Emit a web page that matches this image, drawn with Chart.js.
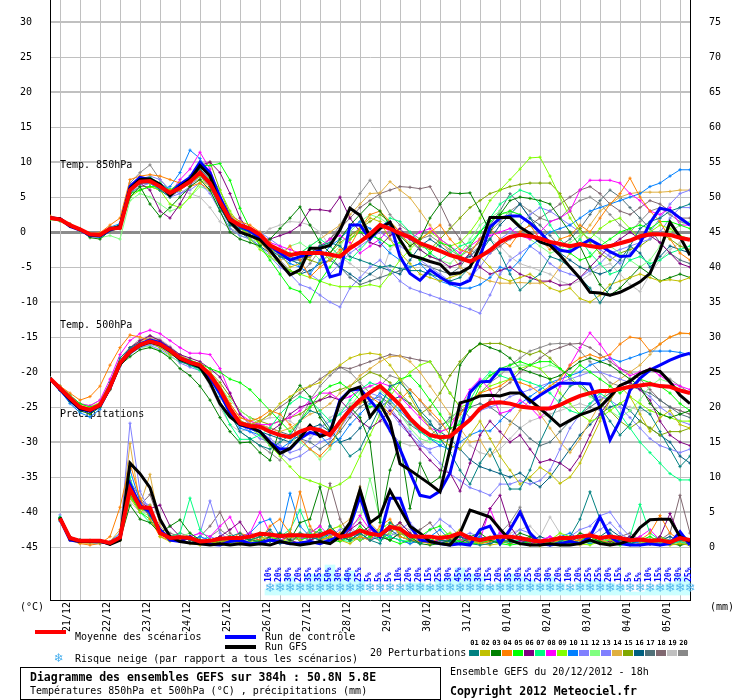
<!DOCTYPE html>
<html>
<head>
<meta charset="utf-8">
<script src="https://cdn.jsdelivr.net/npm/chart.js@4.4.0/dist/chart.umd.min.js"></script>
<style>
  body { margin: 0; background: #fff; }
  #wrap { position: relative; width: 740px; height: 700px; background: #fff; overflow: hidden; }
  #gefs { position: absolute; left: 0; top: 0; }
  .t { position: absolute; font: 10px 'DejaVu Sans Mono', monospace; line-height: 12px; white-space: pre; color: #000; }
  .b { font-weight: bold; font-size: 11.5px; }
  .bar { position: absolute; height: 4px; width: 31px; }
  .sw { position: absolute; width: 10px; height: 6px; top: 650px; }
  .num { position: absolute; width: 11px; top: 639px; text-align: center; font: bold 7px 'DejaVu Sans Mono', monospace; line-height: 8px; }
  #box { position: absolute; left: 20px; top: 667px; width: 419px; height: 31px; border: 1px solid #000; }
</style>
</head>
<body>
<div id="wrap">
  <canvas id="gefs" width="740" height="640"></canvas>
  <div class="t" style="left:20px;top:601px">(°C)</div>
  <div class="t" style="left:710px;top:601px">(mm)</div>
  <div class="bar" style="left:35px;top:630px;background:#ff0000"></div>
  <div class="t" style="left:75px;top:631px">Moyenne des scénarios</div>
  <div class="bar" style="left:225px;top:635px;background:#0000ff"></div>
  <div class="t" style="left:265px;top:631px">Run de contrôle</div>
  <div class="bar" style="left:225px;top:645px;background:#000"></div>
  <div class="t" style="left:265px;top:641px">Run GFS</div>
  <div class="t" style="left:54px;top:652px;font-size:12px;color:#4ab0ee;font-family:'DejaVu Sans'">❄</div>
  <div class="t" style="left:75px;top:653px">Risque neige (par rapport a tous les scénarios)</div>
  <div class="t" style="left:370px;top:647px">20 Perturbations</div>
  <div id="swatches"></div>
  <div id="box"></div>
  <div class="t b" style="left:30px;top:671px">Diagramme des ensembles GEFS sur 384h : 50.8N 5.8E</div>
  <div class="t" style="left:30px;top:685px">Températures 850hPa et 500hPa (°C) , précipitations (mm)</div>
  <div class="t" style="left:450px;top:666px">Ensemble GEFS du 20/12/2012 - 18h</div>
  <div class="t b" style="left:450px;top:685px">Copyright 2012 Meteociel.fr</div>
</div>
<script>
// run 20/12/2012 18h, one value every 6h (65 steps, 384h)
const dayLabels = ['21/12', '22/12', '23/12', '24/12', '25/12', '26/12', '27/12', '28/12',
  '29/12', '30/12', '31/12', '01/01', '02/01', '03/01', '04/01', '05/01'];
const tempTicks = [-45, -40, -35, -30, -25, -20, -15, -10, -5, 0, 5, 10, 15, 20, 25, 30];
const rainTicks = [0, 5, 10, 15, 20, 25, 30, 35, 40, 45, 50, 55, 60, 65, 70, 75];

// snow risk (%), from step 22 (26/12 06h) to the end
const snowPct = [10, 20, 30, 20, 35, 35, 50, 30, 40, 25, 5, 5, 5, 10, 20, 20, 15, 25, 30, 45, 35, 30, 15,
  20, 35, 30, 25, 20, 30, 20, 10, 20, 25, 25, 20, 15, 5, 5, 10, 15, 20, 30, 25];

// ---- 850 hPa temperature
const t850Mean = [2.0, 1.8, 1.0, 0.4, -0.3, -0.4, 0.5, 0.6,
  6.0, 7.2, 7.3, 6.5, 5.6, 6.3, 7.2, 8.5,
  7.0, 4.3, 1.8, 1.0, 0.5, -0.4, -1.9, -2.6,
  -3.3, -3.0, -3.0, -3.0, -3.2, -3.5, -2.3, -1.4,
  -0.3, 1.0, 0.5, -0.2, -0.7, -1.6, -2.1, -2.7,
  -3.3, -3.7, -4.2, -3.5, -2.6, -1.4, -0.7, -0.4,
  -0.6, -0.9, -1.4, -1.7, -2.0, -1.7, -2.0, -2.2,
  -2.0, -1.6, -1.2, -0.6, -0.3, -0.3, -0.4, -0.8,
  -1.1];
const t850Control = [2.0, 1.9, 0.8, 0.3, -0.5, -0.6, 0.3, 0.8,
  6.5, 7.8, 7.5, 6.8, 5.5, 6.8, 7.8, 10.0,
  8.5, 5.0, 2.0, 0.8, 0.2, -0.8, -2.0, -3.0,
  -4.0, -3.5, -3.2, -2.6, -6.4, -6.0, 1.0, 1.0,
  -1.0, 0.7, 1.4, -3.5, -5.9, -6.9, -5.4, -6.4,
  -7.3, -7.5, -6.9, -3.5, 0.7, 2.0, 2.3, 2.3,
  1.3, 0.0, -1.6, -2.6, -2.8, -1.9, -1.1, -1.9,
  -2.8, -3.5, -3.4, -1.6, 1.3, 3.4, 3.1, 2.0,
  1.0];
const t850Gfs = [2.0, 1.9, 0.9, 0.4, -0.4, -0.5, 0.4, 0.8,
  6.2, 7.5, 7.6, 6.8, 5.2, 6.5, 7.5, 9.5,
  8.0, 4.0, 1.5, 0.0, -0.5, -1.1, -2.6, -4.4,
  -6.1, -5.4, -2.3, -2.3, -1.9, 0.3, 3.4, 2.4,
  -0.7, 0.5, 1.4, -1.1, -3.3, -3.7, -4.2, -4.6,
  -6.0, -5.8, -5.0, -2.0, 2.1, 2.1, 2.1, 0.7,
  -0.2, -1.4, -1.9, -3.3, -5.0, -6.6, -8.6, -8.7,
  -9.0, -8.6, -7.9, -7.1, -5.9, -2.6, 1.4, -0.7,
  -3.3];
const t850P01 = [2.1, 1.7, 1.1, 0.3, -0.4, -0.3, 0.4, 1.0,
  5.5, 7.0, 7.5, 6.0, 5.0, 6.5, 8.0, 9.0,
  6.5, 3.5, 1.0, 0.5, 0.0, -1.0, -2.5, -3.5,
  -4.0, -4.5, -3.0, -2.0, -1.5, -2.0, -3.5, -4.0,
  -4.5, -5.0, -4.8, -5.2, -5.5, -5.5, -6.0, -6.5,
  -7.0, -6.5, -5.0, -3.0, -1.0, -3.0, -6.0, -8.3,
  -7.0, -6.0, -3.5, -4.0, -5.0, -6.5, -8.0, -10.1,
  -8.0, -5.5, -2.0, 0.5, 1.5, 2.0, 3.0, 3.5,
  4.0];
const t850P02 = [2.0, 1.8, 0.9, 0.5, -0.2, -0.5, 0.3, 0.8,
  6.5, 7.5, 7.0, 6.5, 6.0, 6.0, 7.0, 8.0,
  7.5, 5.0, 2.5, 1.0, -0.5, -1.5, -2.5, -3.0,
  -5.0, -4.5, -3.5, -2.5, -4.0, -3.0, -1.0, 0.5,
  2.0, 1.5, -1.0, -3.0, -4.5, -6.0, -6.5, -7.0,
  -6.5, -6.0, -5.0, -3.5, -5.0, -6.5, -7.0, -6.5,
  -6.0, -7.0, -8.0, -8.5, -8.0, -9.5, -10.0, -9.0,
  -7.5, -7.0, -6.5, -6.0, -6.5, -7.0, -6.8, -7.0,
  -6.5];
const t850P03 = [2.0, 1.8, 1.0, 0.3, -0.8, -1.0, 0.2, 0.5,
  5.0, 6.5, 4.0, 2.2, 3.5, 5.0, 6.5, 7.5,
  6.0, 3.0, 0.0, -1.0, -1.5, -2.0, -1.0, 0.5,
  2.0, 3.6, 1.0, -1.5, -3.0, -1.0, 1.0, 2.5,
  4.0, 3.0, 1.0, -0.5, -2.0, -1.0, 2.0, 4.0,
  5.6, 5.5, 5.6, 3.0, 0.0, 2.5, 4.5, 5.0,
  4.8, 4.5, 4.0, 2.0, 0.0, -2.0, -5.0, -7.5,
  -9.0, -8.0, -6.5, -5.0, -6.0, -7.0, -6.5, -6.0,
  -6.5];
const t850P04 = [2.3, 1.9, 1.2, 0.5, -0.2, -0.1, 1.0, 2.0,
  7.5, 8.0, 8.2, 8.0, 7.5, 7.0, 6.5, 7.0,
  6.0, 4.5, 2.5, 1.5, 1.0, 0.0, -1.5, -3.5,
  -2.0, -4.0, -6.4, -5.0, -4.0, -2.5, -2.0, 0.5,
  2.5, 3.0, 1.5, 0.0, -2.0, -1.0, 0.0, 1.0,
  -1.0, -2.5, -3.0, -1.0, 0.5, -1.0, -2.0, 0.0,
  1.0, -1.0, -2.5, -1.0, -0.5, 1.0, 0.0, 2.0,
  4.0, 5.5, 7.7, 5.0, 3.0, 1.5, -1.0, -3.0,
  -4.0];
const t850P05 = [1.8, 1.6, 0.8, 0.2, -0.5, -0.6, 0.3, 0.7,
  5.5, 6.0, 6.5, 6.5, 6.0, 7.0, 7.5, 9.5,
  9.5, 9.8, 7.4, 3.4, 0.5, -2.0, -4.0, -6.0,
  -8.0, -8.5, -10.0, -7.0, -5.0, -3.0, -1.0, 0.0,
  -0.5, -1.0, -2.0, -1.5, -3.0, -4.0, -3.0, -1.5,
  -2.0, -3.5, -2.0, 0.0, 1.5, 2.5, 3.0, 2.5,
  1.0, 0.0, -1.5, -2.5, -3.0, -4.0, -3.5, -2.0,
  -1.0, 0.0, 0.5, 1.0, 0.5, 1.5, 1.5, 1.0,
  0.5];
const t850P06 = [2.0, 1.8, 1.0, 0.4, -0.3, -0.4, 0.5, 0.8,
  6.5, 7.0, 6.0, 3.0, 2.0, 4.0, 6.5, 9.5,
  10.0, 8.5, 5.5, 2.0, 0.0, -1.0, -1.0, -0.5,
  0.0, 1.0, 3.2, 3.2, 3.0, 5.0, 2.0, 0.0,
  -1.5, -2.0, -0.5, 0.5, -1.0, -2.5, -3.5, -4.0,
  -5.0, -4.5, -3.0, -5.0, -6.0, -5.5, -5.0, -6.0,
  -6.5, -7.0, -7.0, -7.6, -7.5, -6.5, -5.0, -3.5,
  -2.0, -1.0, 0.0, -1.0, -0.5, -1.5, -3.0, -4.5,
  -5.0];
const t850P07 = [2.0, 1.7, 1.0, 0.5, -0.2, -0.3, 0.6, 1.0,
  6.0, 7.5, 7.8, 7.0, 6.0, 6.5, 7.0, 8.0,
  7.0, 4.0, 1.0, 0.5, 0.0, -1.0, -2.0, -3.0,
  -3.5, -3.0, -2.0, -1.0, -2.0, -3.5, -4.0, -2.5,
  -1.0, 0.5, 2.0, 1.5, 0.0, -1.5, -3.0, -4.0,
  -3.0, -2.0, -1.5, 0.0, 2.0, 4.0, 5.0, 6.0,
  5.5, 4.0, 1.0, -1.0, -2.5, -1.0, -3.0, -4.5,
  -6.0, -5.5, -4.0, -3.5, -4.5, -4.0, -3.0, -2.5,
  -2.0];
const t850P08 = [2.2, 1.9, 1.0, 0.4, -0.4, -0.5, 0.5, 0.8,
  6.0, 7.0, 7.5, 6.5, 5.5, 7.5, 9.0, 11.4,
  9.0, 5.0, 2.0, 1.0, 0.0, -0.5, -1.5, -2.0,
  -2.5, -3.0, -3.5, -2.0, -1.0, -0.5, -1.5, -3.0,
  -2.0, -1.0, 0.5, -0.5, -1.0, 0.0, 0.5, -1.0,
  -2.0, -3.0, -2.0, -1.0, -0.5, 0.0, 0.5, -0.5,
  -1.0, 0.0, 1.5, 2.0, 3.0, 6.0, 7.4, 7.4,
  7.4, 7.0, 5.5, 4.5, 3.0, 2.5, 3.5, 1.0,
  1.0];
const t850P09 = [1.9, 1.7, 1.0, 0.3, -0.4, -0.6, 0.2, 0.5,
  5.0, 6.0, 6.5, 6.0, 4.0, 3.5, 5.0, 7.0,
  8.0, 6.0, 3.0, 1.0, -1.0, -2.5, -3.5, -4.5,
  -5.5, -6.0, -6.5, -7.0, -7.5, -7.8, -7.8, -7.8,
  -7.5, -7.8, -6.0, -4.0, -2.5, -1.0, 0.0, -1.0,
  -2.0, -1.5, 0.0, 2.0, 4.5, 6.0, 7.5, 9.0,
  10.6, 10.7, 8.0, 5.0, 2.0, 0.0, -1.0, 0.5,
  1.5, 2.0, 0.5, -1.0, 0.0, 1.0, 0.5, -0.5,
  -1.0];
const t850P10 = [2.1, 1.8, 1.1, 0.5, -0.2, -0.3, 0.7, 1.2,
  6.5, 7.0, 7.0, 6.0, 6.5, 8.5, 11.7, 10.5,
  8.0, 4.5, 2.0, 1.0, 0.5, -0.5, -2.0, -3.5,
  -4.5, -5.0, -6.0, -4.0, -2.0, -1.0, 0.5, 1.5,
  0.5, -1.5, -3.0, -4.0, -5.0, -4.5, -6.0, -7.0,
  -7.5, -8.0, -8.0, -7.5, -6.5, -5.0, -5.5, -4.0,
  -2.0, -1.0, 0.0, 0.5, 1.0, 2.0, 3.0, 3.5,
  4.0, 4.5, 5.0, 5.5, 6.5, 7.0, 8.0, 8.9,
  8.9];
const t850P11 = [2.0, 1.7, 0.9, 0.3, -0.3, -0.4, 0.4, 0.6,
  5.5, 6.5, 7.0, 6.0, 5.0, 5.5, 6.0, 7.0,
  5.5, 3.0, 0.5, -0.5, -1.0, -2.0, -3.5, -5.0,
  -6.0, -7.5, -8.0, -9.0, -10.0, -10.7, -8.0, -6.5,
  -5.0, -4.0, -5.5, -7.0, -8.0, -8.5, -9.0, -9.5,
  -10.0, -10.5, -11.0, -11.6, -9.0, -6.0, -4.0, -3.0,
  -2.0, -3.0, -4.5, -5.5, -6.0, -6.5, -5.5, -4.5,
  -3.0, -2.5, -2.0, -1.5, -1.0, 0.0, 2.0, 3.5,
  3.5];
const t850P12 = [1.9, 1.6, 0.8, 0.2, -0.6, -0.8, -0.5, -1.0,
  4.5, 5.5, 5.0, 4.0, 3.0, 3.5, 5.0, 6.5,
  6.0, 3.0, 0.5, -0.5, -1.0, -1.5, -2.5, -3.0,
  -2.0, -1.5, -2.5, -4.0, -3.5, -2.0, 0.0, 1.5,
  2.5, 2.0, 1.0, -0.5, -1.5, -2.5, -3.5, -4.0,
  -4.5, -3.0, -1.0, 1.0, 2.0, 3.0, 2.5, 1.0,
  -1.0, -2.0, -3.0, -2.5, -1.5, -0.5, 0.0, -1.0,
  -2.0, -3.0, -4.0, -5.0, -4.0, -2.0, 0.0, 1.0,
  1.5];
const t850P13 = [2.1, 1.9, 1.0, 0.4, -0.2, -0.3, 0.6, 0.8,
  6.0, 7.5, 8.0, 7.5, 6.0, 5.5, 6.5, 8.0,
  7.5, 5.0, 2.5, 1.5, 0.5, 0.0, -1.0, -2.0,
  -3.5, -5.0, -6.0, -7.0, -6.0, -4.5, -3.0, -2.0,
  -1.0, 0.0, -1.0, -2.0, -3.0, -4.0, -5.0, -6.0,
  -7.0, -7.5, -6.5, -5.0, -3.0, -1.0, 0.0, 1.0,
  2.5, 3.5, 3.0, 2.0, 1.0, 0.0, -1.0, -2.5,
  -3.5, -4.5, -3.0, -1.5, 0.0, 2.0, 4.0, 5.5,
  6.0];
const t850P14 = [2.0, 1.8, 1.0, 0.5, -0.2, -0.3, 0.6, 1.0,
  6.5, 8.0, 7.5, 7.0, 6.0, 6.0, 7.0, 7.5,
  6.5, 4.0, 1.5, 0.5, -0.5, -1.5, -3.0, -4.0,
  -3.5, -3.0, -2.0, -1.0, 0.0, 1.0, 2.5, 4.0,
  5.5, 5.6, 7.2, 6.0, 4.9, 3.0, 1.0, -1.0,
  -3.0, -5.0, -6.0, -6.5, -7.0, -7.3, -7.3, -7.2,
  -7.3, -7.3, -7.0, -5.0, -3.0, -1.0, 1.0, 3.0,
  4.0, 5.0, 5.5, 5.7, 5.7, 5.7, 5.8, 6.0,
  6.0];
const t850P15 = [1.9, 1.7, 0.9, 0.4, -0.4, -0.5, 0.3, 0.7,
  5.5, 6.5, 6.5, 6.0, 5.5, 6.0, 7.5, 9.0,
  10.0, 6.0, 2.5, 0.5, -0.5, -1.5, -2.0, -2.5,
  -3.0, -3.5, -4.0, -4.5, -3.0, -1.5, -0.5, 0.5,
  1.5, 2.5, 1.5, 0.0, -1.0, -2.0, -2.5, -1.0,
  0.5, 2.0, 3.5, 4.5, 5.5, 6.0, 6.5, 6.8,
  7.0, 7.0, 7.0, 5.5, 3.0, 0.5, -1.5, -3.0,
  -4.0, -3.0, -2.5, -2.0, -1.0, 0.0, -1.0, -2.0,
  -2.5];
const t850P16 = [2.0, 1.8, 1.0, 0.4, -0.3, -0.4, 0.5, 0.6,
  6.0, 7.0, 7.2, 6.5, 5.5, 6.0, 7.5, 9.0,
  7.5, 4.5, 1.5, 0.0, -1.0, -2.0, -3.0, -4.5,
  -5.5, -6.0, -5.5, -4.5, -4.0, -5.0, -6.0, -7.0,
  -6.0, -5.0, -5.5, -6.0, -4.0, -2.0, -1.0, -2.0,
  -3.0, -4.0, -3.5, -2.0, -1.0, 1.0, 2.5, 4.0,
  2.0, 0.0, -1.5, -3.0, -4.0, -5.0, -5.5, -6.0,
  -5.5, -4.0, -2.0, -3.0, -5.0, -3.5, -2.0, -2.5,
  -3.0];
const t850P17 = [2.1, 1.8, 1.1, 0.5, -0.3, -0.4, 0.4, 0.7,
  6.0, 7.0, 7.5, 7.0, 6.0, 6.5, 7.0, 8.5,
  7.0, 4.0, 1.5, 0.5, -0.5, -1.0, -2.0, -3.0,
  -4.0, -4.0, -3.5, -2.5, -3.5, -5.0, -6.5, -7.5,
  -7.0, -6.5, -6.0, -5.5, -5.0, -4.5, -5.0, -5.5,
  -6.0, -5.0, -3.0, -1.0, 1.0, 3.0, 5.5, 4.0,
  2.0, 1.0, -0.5, -2.0, -1.0, 0.5, 2.5, 4.5,
  6.0, 5.0, 3.5, 2.0, 0.5, -1.5, -3.0, -4.0,
  -4.5];
const t850P18 = [2.0, 1.8, 1.0, 0.3, -0.4, -0.4, 0.5, 0.7,
  6.0, 7.0, 7.0, 6.0, 5.0, 6.0, 7.5, 8.0,
  6.5, 4.0, 1.5, 0.5, 0.0, -1.0, -2.0, -3.0,
  -3.5, -4.0, -3.0, -2.0, -1.0, 0.5, 2.0, 3.5,
  4.5, 5.5, 6.0, 6.5, 6.4, 6.2, 6.5, 4.0,
  1.0, -1.0, -2.5, -3.5, -3.0, -2.0, -1.0, 0.0,
  1.0, 2.0, 3.0, 4.0, 5.0, 6.0, 6.5, 5.5,
  4.0, 3.0, 2.5, 3.5, 4.5, 4.0, 3.0, 2.0,
  2.0];
const t850P19 = [2.0, 1.8, 1.0, 0.4, -0.3, -0.4, 0.5, 0.7,
  5.5, 6.5, 7.0, 6.0, 5.5, 6.0, 5.5, 5.0,
  3.5, 1.5, 0.5, 0.0, -0.5, -0.5, 0.5, 1.0,
  1.5, 1.4, 1.0, 0.0, -2.0, -3.5, -4.5, -5.5,
  -6.0, -6.7, -2.5, -1.0, -0.5, -1.5, -3.0, -4.5,
  -5.0, -4.5, -3.0, -2.0, -1.0, -2.0, -3.5, -4.5,
  -5.0, -5.5, -6.0, -7.0, -7.5, -7.0, -6.0, -5.0,
  -4.5, -6.0, -7.5, -8.5, -6.0, -4.0, -2.5, -1.5,
  -1.0];
const t850P20 = [2.0, 1.8, 1.0, 0.4, -0.3, -0.4, 0.3, 0.6,
  7.0, 8.5, 9.6, 7.5, 6.0, 6.5, 7.0, 8.0,
  6.5, 3.5, 1.0, 0.0, -0.5, -1.0, -2.5, -4.0,
  -5.5, -6.0, -4.5, -2.5, -1.0, 1.0, 3.5, 5.5,
  7.4, 5.0, 2.5, 1.0, 0.0, -1.0, -0.5, -1.5,
  -2.5, -3.5, -2.5, -1.5, 0.0, 1.5, 3.0, 4.0,
  3.0, 2.0, 1.5, 2.0, 3.5, 4.5, 5.0, 4.0,
  2.5, 1.0, 0.0, 1.5, 3.0, 3.5, 2.5, 1.5,
  1.0];

// ---- 500 hPa temperature
const t500Mean = [-20.9, -22.3, -23.7, -25.0, -25.4, -24.7, -22.1, -18.7,
  -17.1, -16.1, -15.6, -16.0, -16.9, -18.0, -18.6, -19.0,
  -20.4, -22.5, -25.2, -27.3, -27.7, -27.8, -28.5, -29.0,
  -29.3, -28.5, -28.0, -28.3, -29.0, -27.1, -25.4, -24.0,
  -22.9, -22.0, -23.3, -24.7, -26.6, -28.0, -29.0, -29.3,
  -29.2, -28.0, -26.8, -25.2, -24.4, -24.3, -24.5, -24.9,
  -25.1, -25.2, -25.2, -24.7, -24.0, -23.4, -23.0, -22.7,
  -22.7, -22.4, -22.1, -21.9, -21.7, -22.0, -22.1, -22.6,
  -23.0];
const t500Control = [-20.9, -22.5, -24.0, -25.3, -25.6, -24.8, -22.3, -18.8,
  -17.0, -16.0, -15.4, -15.8, -16.8, -18.0, -18.5, -19.2,
  -20.8, -23.0, -25.8, -27.5, -28.0, -28.5, -30.0, -31.0,
  -31.0, -29.5, -28.6, -29.0, -28.6, -24.0, -22.6, -22.4,
  -24.0, -25.7, -28.3, -31.0, -34.4, -37.6, -37.9, -37.0,
  -34.4, -28.7, -22.9, -21.4, -21.3, -19.6, -19.6, -22.6,
  -24.3, -23.3, -22.4, -21.6, -21.6, -21.6, -21.7, -25.0,
  -29.7, -26.9, -22.6, -20.9, -19.7, -19.0, -18.3, -17.7,
  -17.3];
const t500Gfs = [-20.9, -22.4, -23.9, -25.2, -25.5, -24.8, -22.2, -18.9,
  -17.2, -16.2, -15.7, -16.1, -17.0, -18.2, -18.7, -19.3,
  -21.5, -24.5, -26.4, -27.5, -27.8, -28.5, -30.1, -31.6,
  -30.9, -29.4, -27.6, -29.2, -28.7, -24.2, -22.6, -22.1,
  -26.4, -24.5, -27.1, -33.1, -34.0, -35.0, -36.0, -37.1,
  -31.0, -24.4, -24.0, -23.4, -23.3, -23.4, -23.0, -23.0,
  -24.0, -25.2, -26.4, -27.7, -26.9, -26.1, -25.6, -25.0,
  -23.5, -21.9, -21.3, -20.2, -19.6, -19.9, -21.4, -23.3,
  -24.5];
const t500P01 = [-20.8, -22.5, -24.0, -25.2, -25.5, -24.5, -21.5, -18.0,
  -16.5, -15.8, -15.5, -16.2, -17.0, -18.5, -19.0, -19.5,
  -21.0, -23.0, -26.0, -28.5, -29.5, -30.5, -31.0, -30.0,
  -29.0, -27.0, -25.5, -26.0, -28.0, -30.0, -32.0, -31.0,
  -28.0, -25.0, -22.0, -21.5, -23.0, -25.5, -27.0, -29.5,
  -31.5, -34.0, -36.0, -33.0, -31.0, -34.0, -36.7, -36.7,
  -34.0, -30.0, -27.0, -24.0, -22.0, -21.5, -23.0, -25.0,
  -27.0, -29.0, -27.5, -25.0, -26.0, -28.5, -31.0, -33.5,
  -32.0];
const t500P02 = [-21.0, -22.3, -23.5, -24.8, -25.2, -24.8, -22.5, -19.0,
  -17.0, -16.0, -15.8, -16.5, -17.5, -18.0, -18.8, -19.5,
  -21.0, -23.0, -25.0, -27.0, -27.5, -27.0, -26.0, -24.5,
  -23.5, -22.5, -22.0, -21.5, -20.0, -19.0, -18.0, -17.5,
  -17.3, -17.5, -19.0, -21.0, -23.5, -26.0, -28.0, -29.5,
  -30.5, -31.0, -29.0, -27.0, -29.5, -32.0, -34.0, -36.0,
  -35.0, -33.6, -34.5, -35.9, -35.0, -33.0, -30.0, -27.0,
  -24.0, -22.0, -23.5, -26.0, -28.5, -26.5, -25.5, -27.5,
  -28.0];
const t500P03 = [-20.9, -22.6, -24.2, -25.5, -26.0, -25.0, -22.5, -19.0,
  -17.8, -16.8, -16.5, -17.0, -18.0, -19.5, -20.5, -22.0,
  -24.0, -26.5, -28.5, -30.1, -30.0, -31.5, -32.6, -28.0,
  -24.0, -21.9, -23.5, -26.5, -28.5, -27.0, -25.0, -26.5,
  -30.0, -41.5, -34.0, -30.0, -39.5, -33.0, -36.0, -35.0,
  -28.0, -19.0, -17.0, -15.9, -16.5, -17.0, -18.0, -19.5,
  -20.0, -20.5, -21.0, -20.5, -19.5, -18.5, -18.0, -18.5,
  -19.0, -20.0, -21.0, -22.0, -24.5, -26.0, -26.5, -26.0,
  -25.5];
const t500P04 = [-20.8, -22.0, -23.0, -24.0, -23.5, -22.0, -19.0, -16.5,
  -14.7, -15.0, -15.5, -16.0, -17.0, -18.0, -18.5, -19.0,
  -20.0, -22.0, -24.5, -26.5, -27.0, -26.5, -25.5, -26.0,
  -27.5, -29.5, -31.0, -32.0, -30.5, -28.0, -25.5, -24.5,
  -23.5, -24.5, -26.0, -24.0, -22.5, -24.0, -25.5, -27.0,
  -29.0, -26.0, -24.0, -23.0, -22.5, -22.0, -21.0, -21.5,
  -22.0, -23.0, -22.0, -21.0, -19.0, -18.0, -17.5, -18.0,
  -17.5, -16.0, -15.0, -15.2, -17.0, -16.0, -15.0, -14.4,
  -14.5];
const t500P05 = [-20.9, -22.0, -23.3, -24.5, -25.0, -24.5, -22.0, -18.5,
  -17.0, -16.0, -15.5, -16.0, -16.8, -17.8, -18.3, -18.8,
  -19.5, -20.0, -21.0, -21.5, -22.5, -24.0, -25.5, -27.0,
  -28.5, -27.0, -25.0, -23.0, -22.0, -21.5, -22.5, -24.0,
  -25.0, -24.5, -22.5, -21.0, -20.5, -22.0, -24.0, -26.0,
  -28.0, -27.5, -25.0, -22.0, -20.5, -19.5, -19.0, -18.5,
  -19.0, -18.5, -18.5, -19.5, -20.5, -19.0, -20.0, -21.0,
  -22.0, -23.0, -22.0, -21.0, -21.5, -22.0, -23.0, -24.5,
  -25.5];
const t500P06 = [-20.9, -22.3, -23.5, -24.8, -25.2, -24.5, -22.0, -18.5,
  -16.5, -15.5, -14.8, -15.5, -16.5, -17.5, -18.0, -18.5,
  -19.5, -20.7, -23.0, -26.0, -27.5, -28.0, -28.5, -27.5,
  -26.0, -25.0, -24.5, -24.0, -23.5, -24.0, -25.5, -27.0,
  -28.0, -27.0, -25.5, -27.0, -29.0, -31.0, -32.6, -34.0,
  -34.4, -37.0, -33.0, -29.0, -27.0, -28.5, -30.0, -29.0,
  -31.0, -32.9, -32.5, -33.0, -34.0, -32.0, -29.0, -26.0,
  -24.0, -22.0, -21.5, -22.5, -24.0, -27.0, -29.0, -30.0,
  -30.5];
const t500P07 = [-20.9, -22.4, -23.8, -25.2, -25.6, -24.8, -22.3, -19.0,
  -17.3, -16.3, -15.8, -16.3, -17.2, -18.3, -19.0, -19.8,
  -21.5, -24.5, -27.5, -29.6, -29.6, -29.0, -28.0, -26.0,
  -24.5, -23.5, -24.0, -25.5, -27.0, -26.0, -24.0, -22.5,
  -21.5, -22.0, -23.0, -25.0, -27.0, -28.5, -29.5, -30.0,
  -29.0, -27.0, -24.0, -21.5, -20.0, -20.5, -21.0, -21.0,
  -21.5, -22.0, -23.0, -24.5, -25.5, -26.0, -24.5, -23.0,
  -24.0, -26.0, -28.0, -30.0, -31.5, -33.0, -34.5, -35.4,
  -35.4];
const t500P08 = [-20.9, -22.0, -23.3, -24.5, -24.8, -24.0, -21.0, -17.5,
  -15.5, -14.5, -14.0, -14.5, -15.5, -16.5, -17.3, -17.3,
  -17.5, -19.5, -23.0, -26.0, -27.0, -27.5, -27.5, -27.0,
  -26.5, -25.5, -24.0, -23.0, -23.0, -24.0, -23.5, -22.5,
  -22.0, -21.5, -22.0, -23.5, -25.0, -26.5, -28.0, -28.5,
  -28.0, -25.0, -22.5, -21.0, -22.5, -25.9, -25.5, -24.0,
  -25.0, -26.5, -25.0, -22.0, -19.0, -16.5, -14.4, -16.0,
  -18.0, -19.5, -20.5, -20.0, -19.5, -20.5, -21.5, -22.0,
  -22.5];
const t500P09 = [-20.9, -22.3, -23.6, -24.9, -25.3, -24.7, -22.0, -18.8,
  -17.2, -16.3, -15.8, -16.2, -17.0, -18.2, -18.8, -19.3,
  -20.5, -22.5, -25.0, -27.0, -28.0, -29.0, -30.5, -32.0,
  -33.5, -35.0, -35.5, -36.0, -36.6, -36.0, -35.0, -32.0,
  -29.0, -26.0, -23.5, -21.5, -20.0, -19.0, -18.5, -20.7,
  -23.0, -25.0, -24.5, -23.0, -22.0, -21.5, -21.0, -19.5,
  -19.0, -19.5, -21.0, -23.0, -24.5, -26.0, -27.0, -26.5,
  -25.5, -24.5, -23.5, -24.5, -25.5, -26.0, -26.5, -27.0,
  -27.0];
const t500P10 = [-20.9, -22.6, -24.5, -25.8, -26.4, -25.3, -22.5, -19.0,
  -17.0, -16.2, -15.8, -16.3, -17.2, -18.3, -19.0, -19.5,
  -21.0, -23.5, -26.0, -28.0, -28.5, -29.0, -30.5, -31.0,
  -30.0, -28.5, -28.0, -29.0, -30.5, -29.5, -27.5, -26.0,
  -24.5, -23.0, -24.0, -25.5, -27.0, -28.5, -29.5, -30.5,
  -31.0, -30.0, -29.0, -28.4, -28.4, -27.0, -25.5, -24.5,
  -23.5, -22.5, -21.5, -21.0, -20.5, -20.0, -19.0, -18.5,
  -18.0, -18.5, -18.0, -17.5, -17.0, -17.0, -17.0, -17.2,
  -17.5];
const t500P11 = [-20.9, -22.3, -23.7, -25.0, -25.5, -24.8, -22.3, -19.0,
  -17.5, -16.5, -16.0, -16.5, -17.3, -18.3, -19.0, -19.5,
  -20.5, -22.5, -25.0, -27.5, -28.5, -29.5, -30.0, -31.5,
  -32.5, -32.0, -31.0, -30.0, -29.5, -28.0, -26.0, -24.0,
  -23.0, -23.5, -25.0, -27.0, -28.5, -30.0, -31.5, -33.0,
  -34.5, -35.5, -36.5, -37.0, -37.6, -36.0, -36.0, -35.5,
  -36.0, -35.5, -34.0, -31.0, -28.0, -26.0, -24.5, -23.5,
  -24.0, -25.0, -26.5, -28.0, -29.5, -30.5, -31.0, -31.5,
  -31.0];
const t500P12 = [-20.9, -22.2, -23.5, -24.5, -24.8, -24.0, -21.5, -18.5,
  -17.0, -16.5, -16.3, -17.0, -17.8, -18.5, -19.0, -19.5,
  -20.5, -22.0, -24.0, -25.5, -26.5, -27.5, -28.5, -29.0,
  -29.5, -30.0, -31.0, -32.5, -31.0, -28.0, -25.0, -23.0,
  -22.0, -22.5, -24.0, -26.0, -28.0, -29.5, -30.0, -29.0,
  -27.0, -25.0, -23.0, -21.5, -20.5, -20.0, -19.5, -19.0,
  -19.0, -19.5, -19.0, -19.5, -20.5, -22.0, -23.5, -24.5,
  -25.5, -26.5, -25.5, -24.0, -22.0, -21.0, -21.5, -22.5,
  -23.0];
const t500P13 = [-20.9, -22.4, -23.9, -25.2, -25.6, -24.9, -22.4, -19.2,
  -17.3, -16.5, -16.2, -16.8, -17.6, -18.7, -19.3, -19.8,
  -21.0, -23.0, -25.5, -27.5, -28.0, -28.5, -29.5, -30.5,
  -31.5, -31.0, -29.5, -28.0, -27.0, -26.0, -25.0, -24.0,
  -23.5, -24.0, -25.5, -27.5, -29.0, -30.5, -31.0, -30.5,
  -29.5, -28.0, -26.5, -25.5, -25.0, -24.5, -23.5, -23.0,
  -22.5, -22.0, -21.5, -21.5, -21.0, -20.5, -20.0, -20.0,
  -20.5, -21.0, -21.5, -22.5, -23.5, -25.0, -26.0, -27.0,
  -27.5];
const t500P14 = [-20.9, -22.2, -23.4, -24.6, -25.0, -24.3, -21.8, -18.3,
  -16.6, -15.6, -15.1, -15.6, -16.6, -17.6, -18.3, -18.8,
  -20.0, -22.0, -24.5, -26.5, -27.0, -27.5, -28.0, -28.5,
  -28.0, -27.0, -26.0, -25.5, -24.5, -23.0, -22.0, -20.5,
  -19.5, -18.5, -17.8, -17.7, -18.5, -20.0, -22.0, -24.0,
  -26.0, -28.0, -30.0, -29.7, -32.0, -30.0, -27.5, -25.5,
  -24.0, -26.0, -28.0, -30.0, -31.5, -29.5, -27.0, -24.5,
  -22.0, -21.0, -20.0, -19.0, -17.5, -16.0, -15.0, -14.5,
  -14.5];
const t500P15 = [-20.9, -22.3, -23.6, -24.9, -25.3, -24.6, -22.0, -18.6,
  -16.9, -15.9, -15.4, -15.9, -16.8, -17.9, -18.5, -18.9,
  -20.0, -21.5, -23.5, -25.5, -26.5, -27.0, -27.5, -27.0,
  -26.5, -26.0, -25.0, -24.0, -23.0, -22.5, -22.0, -21.0,
  -20.0, -20.5, -21.5, -23.0, -24.5, -26.0, -25.0, -23.0,
  -20.5, -18.5, -17.0, -16.0, -15.9, -15.9, -16.5, -17.0,
  -17.5, -17.0, -18.0, -19.5, -21.0, -22.0, -23.0, -24.5,
  -25.5, -27.0, -28.0, -27.0, -28.0, -29.0, -28.5, -28.5,
  -28.0];
const t500P16 = [-20.9, -22.4, -23.8, -25.1, -25.5, -24.8, -22.2, -18.8,
  -17.2, -16.2, -15.7, -16.1, -17.0, -18.1, -18.7, -19.1,
  -20.5, -22.5, -25.5, -27.5, -28.0, -28.5, -29.0, -29.5,
  -30.0, -29.0, -28.0, -27.5, -28.5, -30.0, -29.5, -28.0,
  -26.5, -25.0, -24.0, -23.5, -24.5, -26.0, -27.5, -28.5,
  -29.5, -31.0, -32.5, -33.5, -34.0, -34.5, -35.0, -34.4,
  -35.5, -36.4, -35.0, -33.0, -31.0, -29.0, -27.5, -26.0,
  -25.0, -24.5, -25.5, -27.0, -28.0, -29.0, -30.0, -32.0,
  -33.0];
const t500P17 = [-20.9, -22.3, -23.7, -25.0, -25.4, -24.7, -22.1, -18.7,
  -17.1, -16.1, -15.6, -16.0, -16.9, -18.0, -18.6, -19.0,
  -20.4, -22.5, -25.0, -27.0, -27.5, -27.5, -28.0, -28.5,
  -29.0, -29.5, -30.0, -31.0, -30.0, -28.5, -26.5, -25.0,
  -24.0, -23.5, -24.5, -26.0, -27.5, -28.5, -29.0, -28.0,
  -26.5, -25.5, -25.0, -24.5, -25.0, -26.0, -27.0, -28.0,
  -29.5, -30.5, -30.0, -28.5, -27.0, -26.0, -25.0, -24.0,
  -23.0, -22.5, -22.0, -22.5, -23.0, -24.0, -25.0, -26.0,
  -26.5];
const t500P18 = [-20.9, -22.2, -23.6, -24.9, -25.3, -24.6, -22.0, -18.6,
  -17.0, -16.0, -15.5, -15.9, -16.8, -17.9, -18.5, -18.9,
  -20.3, -22.3, -24.8, -27.0, -27.5, -27.0, -26.0, -25.0,
  -24.0, -23.0, -22.0, -21.0, -20.0, -19.3, -19.5, -19.0,
  -18.5, -18.0, -17.5, -17.7, -18.0, -18.3, -18.5, -20.5,
  -23.0, -25.0, -26.5, -25.5, -24.0, -22.5, -21.5, -20.0,
  -19.0, -18.0, -17.0, -16.5, -16.0, -15.9, -16.5, -17.5,
  -18.5, -19.5, -20.0, -21.0, -22.5, -24.0, -25.0, -25.5,
  -26.0];
const t500P19 = [-20.9, -22.3, -23.7, -25.0, -25.4, -24.7, -22.1, -18.7,
  -16.5, -15.2, -14.8, -15.3, -16.3, -17.5, -18.3, -19.5,
  -22.0, -25.0, -27.5, -28.5, -28.0, -27.0, -26.5, -26.5,
  -27.0, -28.0, -29.0, -28.0, -26.5, -25.5, -24.5, -24.0,
  -24.5, -26.5, -28.5, -30.0, -30.5, -30.5, -29.5, -28.5,
  -28.0, -29.0, -30.5, -31.5, -31.9, -31.0, -29.5, -28.0,
  -27.0, -26.5, -26.0, -25.5, -25.0, -24.5, -25.0, -25.5,
  -25.0, -24.5, -25.0, -25.5, -25.5, -25.0, -25.0, -25.5,
  -26.0];
const t500P20 = [-20.9, -22.4, -23.8, -25.1, -25.5, -24.8, -22.2, -18.8,
  -16.8, -15.5, -15.0, -15.4, -16.4, -17.6, -18.4, -18.9,
  -20.3, -22.8, -26.0, -28.5, -29.5, -30.5, -31.5, -32.6,
  -30.0, -27.0, -24.0, -22.0, -20.5, -19.3, -20.0, -21.5,
  -23.0, -22.0, -20.5, -21.0, -22.5, -24.0, -26.0, -27.5,
  -27.0, -26.0, -24.5, -23.0, -21.5, -20.5, -19.0, -18.0,
  -17.0, -16.5, -16.0, -15.9, -16.0, -17.0, -18.5, -20.0,
  -21.5, -22.0, -21.0, -20.0, -19.5, -20.0, -21.0, -22.0,
  -23.0];

// ---- 6h precipitation (mm), nothing at step 0
const rainMean = [null, 4.1, 1.3, 0.9, 0.9, 0.9, 0.6, 1.4,
  8.3, 5.7, 5.6, 2.0, 1.3, 1.4, 1.3, 0.8,
  0.9, 1.2, 1.3, 1.3, 1.5, 1.9, 1.8, 1.6,
  1.7, 1.7, 1.6, 1.7, 2.3, 1.5, 1.7, 2.4,
  1.9, 1.7, 2.9, 2.6, 1.6, 1.5, 1.5, 1.3,
  1.5, 2.0, 1.3, 1.0, 1.3, 1.5, 1.5, 1.3,
  1.0, 0.8, 1.0, 1.3, 1.3, 1.5, 1.7, 1.3,
  1.5, 1.3, 1.0, 1.1, 0.9, 1.0, 0.7, 1.3,
  1.0];
const rainControl = [null, 4.0, 1.0, 0.8, 0.8, 0.8, 0.5, 1.2,
  9.0, 6.0, 5.0, 2.5, 1.0, 0.8, 1.5, 0.5,
  0.4, 0.3, 0.8, 1.0, 0.5, 0.6, 1.0, 0.8,
  0.5, 0.6, 0.8, 0.5, 1.0, 1.5, 3.0, 7.2,
  3.0, 1.5, 7.0, 7.0, 3.0, 1.0, 0.8, 0.5,
  0.3, 0.5, 0.3, 2.5, 3.0, 0.5, 2.5, 5.0,
  2.0, 0.5, 0.3, 0.5, 0.8, 0.5, 1.5, 4.3,
  1.5, 0.5, 0.3, 0.3, 0.5, 0.3, 0.5, 2.2,
  0.3];
const rainGfs = [null, 4.2, 1.2, 0.8, 0.8, 0.9, 0.4, 1.0,
  12.0, 10.5, 8.5, 4.0, 1.5, 0.8, 0.6, 0.5,
  0.3, 0.5, 0.3, 0.5, 0.3, 0.5, 0.3, 0.8,
  0.5, 0.3, 0.5, 0.8, 0.5, 1.5, 3.5, 8.2,
  3.5, 4.5, 8.1, 5.5, 3.0, 2.0, 0.8, 0.5,
  0.3, 2.0, 5.3, 4.8, 4.3, 2.6, 1.0, 0.5,
  0.3, 0.3, 0.5, 0.3, 0.3, 0.5, 1.0, 0.5,
  0.3, 0.5, 1.0, 2.8, 3.9, 4.0, 4.0, 1.5,
  0.8];
const rainP01 = [null, 4.0, 1.2, 0.8, 0.9, 0.7, 0.5, 1.5,
  9.0, 6.0, 4.5, 2.0, 1.0, 1.5, 1.0, 0.5,
  0.8, 1.0, 1.5, 2.0, 1.0, 1.5, 2.5, 1.0,
  0.5, 2.0, 1.5, 1.0, 3.0, 1.5, 1.0, 2.0,
  1.0, 0.5, 3.5, 2.5, 1.0, 0.5, 1.5, 1.0,
  0.8, 1.5, 0.5, 0.3, 0.5, 1.0, 0.8, 0.5,
  1.0, 0.5, 0.3, 0.8, 1.5, 4.0, 7.9, 4.0,
  2.0, 1.0, 0.5, 1.0, 0.5, 0.3, 0.5, 1.0,
  0.8];
const rainP02 = [null, 3.8, 1.0, 0.7, 0.8, 0.6, 0.5, 1.0,
  7.0, 5.0, 6.0, 1.5, 0.8, 1.0, 0.5, 0.3,
  0.5, 0.8, 1.0, 0.5, 0.8, 1.5, 1.0, 0.8,
  1.5, 1.0, 0.5, 0.8, 1.5, 1.0, 0.5, 1.5,
  2.0, 1.5, 3.0, 2.0, 1.5, 1.0, 0.5, 1.0,
  1.5, 2.5, 1.0, 0.5, 0.3, 0.5, 1.0, 0.5,
  0.3, 0.2, 0.5, 1.0, 0.8, 0.5, 1.0, 1.5,
  1.0, 0.5, 0.3, 0.5, 0.8, 0.5, 0.3, 0.5,
  0.3];
const rainP03 = [null, 4.2, 1.5, 1.0, 0.9, 0.8, 0.5, 1.0,
  6.0, 4.0, 3.5, 2.0, 3.0, 3.9, 2.0, 1.0,
  0.5, 0.8, 1.0, 1.5, 1.0, 0.8, 1.5, 2.0,
  1.0, 3.5, 4.0, 8.6, 3.0, 1.5, 1.0, 2.0,
  3.0, 1.5, 1.0, 2.0, 1.5, 0.5, 0.3, 0.5,
  1.0, 0.5, 1.5, 2.0, 1.0, 0.5, 1.0, 2.0,
  1.5, 0.5, 0.3, 0.5, 1.0, 2.0, 1.5, 0.8,
  0.5, 1.0, 0.5, 0.3, 0.5, 1.0, 0.5, 0.3,
  0.5];
const rainP04 = [null, 3.9, 1.0, 0.5, 0.3, 0.5, 1.5, 5.7,
  12.0, 7.0, 4.0, 1.5, 1.0, 1.5, 1.0, 0.8,
  1.0, 0.5, 1.0, 2.0, 1.5, 1.0, 3.0, 4.0,
  2.0, 7.9, 3.0, 1.0, 1.5, 2.0, 1.0, 1.5,
  1.0, 3.0, 4.0, 1.5, 1.0, 0.8, 0.5, 1.5,
  1.0, 2.0, 1.0, 0.5, 0.8, 1.5, 1.0, 0.5,
  0.3, 0.8, 1.0, 1.5, 0.8, 1.0, 2.0, 1.0,
  0.5, 1.0, 0.8, 1.0, 2.0, 4.5, 2.0, 1.0,
  0.5];
const rainP05 = [null, 4.1, 1.3, 0.9, 0.8, 0.7, 0.6, 1.2,
  7.5, 5.0, 4.0, 2.0, 1.5, 1.0, 1.5, 1.0,
  0.5, 1.0, 1.5, 1.0, 0.5, 1.0, 0.8, 1.5,
  2.0, 1.0, 1.5, 2.5, 1.0, 0.8, 1.5, 3.0,
  1.5, 2.0, 1.0, 0.5, 1.0, 1.5, 2.5, 3.0,
  1.5, 0.8, 0.5, 0.5, 1.0, 0.5, 0.3, 0.5,
  0.8, 1.0, 0.5, 0.3, 0.5, 1.0, 1.5, 0.8,
  0.5, 0.3, 0.5, 1.0, 1.5, 0.8, 0.5, 0.3,
  0.5];
const rainP06 = [null, 4.0, 1.2, 0.9, 0.9, 0.7, 0.5, 1.0,
  8.0, 6.5, 5.5, 6.0, 3.0, 1.5, 1.0, 0.8,
  1.0, 1.5, 2.5, 3.6, 1.5, 1.0, 0.8, 1.5,
  1.0, 0.5, 1.0, 1.5, 2.0, 1.0, 2.5, 3.5,
  2.0, 1.5, 2.5, 3.5, 2.0, 1.0, 0.5, 1.0,
  0.8, 1.5, 1.0, 2.0, 5.5, 7.4, 3.0, 1.0,
  0.5, 0.8, 1.0, 0.5, 0.8, 1.5, 1.0, 0.5,
  0.8, 1.0, 1.5, 1.0, 0.5, 1.5, 4.8, 1.5,
  0.5];
const rainP07 = [null, 4.3, 1.4, 1.0, 1.0, 0.8, 0.6, 1.3,
  10.0, 5.0, 3.5, 2.0, 1.5, 2.0, 7.0, 2.5,
  1.0, 0.8, 1.0, 1.5, 1.0, 1.5, 2.0, 1.5,
  2.5, 5.3, 2.0, 1.0, 1.5, 1.0, 0.8, 1.5,
  2.0, 1.0, 1.5, 1.0, 0.8, 1.5, 1.0, 0.5,
  1.0, 0.8, 0.5, 1.0, 1.5, 0.5, 0.8, 1.0,
  0.5, 0.3, 0.5, 0.8, 1.0, 0.5, 0.8, 1.5,
  0.8, 1.0, 1.5, 6.1, 2.0, 1.0, 0.5, 0.8,
  0.5];
const rainP08 = [null, 4.0, 1.1, 0.8, 0.9, 0.6, 0.5, 1.2,
  9.5, 6.0, 5.0, 2.5, 1.5, 1.0, 1.5, 2.0,
  1.5, 3.0, 4.3, 1.5, 2.0, 5.0, 2.0, 1.0,
  1.5, 1.0, 2.0, 3.0, 1.5, 1.0, 2.5, 4.5,
  2.5, 1.5, 1.0, 2.0, 1.5, 1.0, 0.8, 1.0,
  1.5, 1.0, 0.5, 1.0, 5.5, 2.0, 1.0, 0.8,
  0.5, 1.0, 1.5, 0.8, 0.5, 1.0, 2.0, 1.0,
  0.5, 0.8, 1.0, 1.5, 2.5, 1.0, 0.5, 0.3,
  0.5];
const rainP09 = [null, 4.1, 1.3, 0.9, 0.9, 0.6, 0.7, 1.4,
  7.0, 5.5, 5.0, 1.8, 1.2, 1.0, 1.5, 0.5,
  0.8, 1.0, 0.5, 1.0, 1.5, 2.0, 1.5, 1.0,
  0.8, 1.5, 2.0, 1.0, 2.5, 3.0, 1.5, 1.0,
  1.5, 2.5, 3.5, 2.0, 1.0, 0.5, 1.0, 1.5,
  2.0, 1.0, 0.5, 0.8, 1.0, 1.5, 1.0, 0.5,
  0.8, 0.5, 1.0, 2.0, 1.5, 0.5, 0.3, 0.8,
  1.0, 0.5, 0.3, 0.5, 1.0, 1.5, 0.8, 0.5,
  0.3];
const rainP10 = [null, 3.7, 1.2, 0.8, 0.7, 0.5, 0.8, 2.0,
  11.0, 6.5, 4.5, 2.0, 1.0, 1.5, 1.0, 1.5,
  1.0, 0.5, 1.0, 1.5, 2.0, 3.5, 4.0, 1.5,
  7.7, 3.0, 1.5, 1.0, 2.0, 1.5, 2.0, 1.0,
  1.5, 2.0, 1.5, 1.0, 0.5, 1.0, 1.5, 2.5,
  1.0, 0.5, 0.8, 1.5, 1.0, 0.5, 1.0, 1.5,
  0.8, 0.5, 1.0, 1.5, 2.0, 1.0, 0.5, 1.0,
  1.5, 1.0, 0.5, 0.8, 1.0, 0.5, 0.8, 2.0,
  1.0];
const rainP11 = [null, 4.6, 1.4, 1.0, 0.9, 0.8, 0.6, 1.5,
  17.7, 8.0, 5.0, 2.5, 1.5, 1.0, 1.5, 2.0,
  6.6, 2.0, 1.0, 1.5, 1.0, 0.8, 1.5, 2.0,
  1.0, 1.5, 1.0, 0.5, 1.5, 2.5, 3.0, 1.5,
  2.0, 1.0, 1.5, 2.5, 3.5, 2.0, 1.0, 0.8,
  1.0, 1.5, 2.0, 1.5, 1.0, 0.8, 1.5, 2.5,
  2.0, 1.0, 0.5, 0.8, 1.5, 2.5, 3.0, 4.5,
  5.0, 3.0, 1.5, 1.0, 0.5, 0.8, 1.0, 0.5,
  0.3];
const rainP12 = [null, 4.0, 1.3, 0.9, 0.8, 0.7, 0.5, 1.0,
  8.5, 5.0, 4.5, 2.0, 1.0, 1.5, 2.0, 1.0,
  0.5, 1.0, 1.5, 1.0, 0.8, 1.0, 2.0, 1.5,
  1.0, 2.0, 1.5, 1.0, 1.5, 2.0, 3.0, 4.0,
  9.8, 4.0, 2.0, 1.5, 1.0, 0.8, 1.5, 1.0,
  0.8, 1.0, 0.5, 1.0, 0.8, 0.5, 1.0, 0.8,
  0.5, 0.3, 0.5, 1.0, 1.5, 0.8, 0.5, 1.0,
  0.8, 0.5, 1.0, 1.5, 1.0, 0.5, 0.3, 0.5,
  0.8];
const rainP13 = [null, 4.2, 1.2, 0.8, 0.9, 0.7, 0.6, 1.3,
  8.0, 6.5, 6.0, 2.0, 1.5, 1.0, 0.5, 1.0,
  1.5, 1.0, 0.5, 1.0, 1.5, 1.0, 0.8, 1.5,
  2.0, 1.0, 1.5, 2.5, 1.0, 1.5, 2.0, 1.5,
  1.0, 2.0, 3.0, 2.0, 1.5, 1.0, 2.5, 4.0,
  3.0, 1.5, 1.0, 0.8, 1.0, 2.0, 1.5, 1.0,
  0.5, 0.8, 1.5, 1.0, 0.5, 1.0, 1.5, 2.5,
  3.5, 2.0, 1.0, 0.5, 0.8, 1.0, 0.5, 0.8,
  1.0];
const rainP14 = [null, 3.9, 1.0, 0.6, 0.5, 0.6, 0.8, 2.5,
  14.8, 6.0, 10.4, 3.0, 1.5, 1.0, 1.5, 1.0,
  0.5, 1.0, 1.5, 1.0, 0.5, 1.0, 1.5, 1.0,
  0.8, 1.5, 2.0, 1.5, 2.5, 3.0, 4.0, 8.6,
  3.5, 2.0, 2.5, 3.0, 1.5, 1.0, 0.8, 0.5,
  1.0, 1.5, 1.0, 0.5, 0.8, 1.0, 1.5, 1.0,
  0.5, 0.3, 0.8, 1.0, 0.5, 0.3, 0.5, 1.0,
  0.8, 0.5, 1.0, 0.8, 0.5, 0.3, 0.5, 1.0,
  0.5];
const rainP15 = [null, 4.1, 1.3, 0.9, 0.9, 0.6, 0.6, 1.2,
  7.5, 5.5, 5.5, 2.0, 1.2, 1.5, 1.0, 0.5,
  1.0, 1.5, 1.0, 0.5, 1.0, 2.0, 1.5, 1.0,
  1.5, 2.0, 1.0, 1.5, 2.0, 1.5, 1.0, 2.0,
  2.5, 1.5, 2.0, 3.5, 2.0, 1.0, 1.5, 1.0,
  0.5, 1.0, 0.8, 0.5, 1.0, 0.8, 0.5, 1.0,
  1.5, 0.8, 0.5, 1.0, 0.8, 0.5, 1.0, 0.5,
  0.3, 0.5, 0.8, 1.0, 0.5, 0.8, 1.0, 0.5,
  0.3];
const rainP16 = [null, 4.2, 1.3, 1.0, 0.9, 0.7, 0.6, 1.0,
  9.0, 6.0, 5.0, 2.5, 1.5, 1.0, 1.5, 1.0,
  0.8, 1.5, 1.0, 0.5, 1.5, 2.0, 1.0, 0.5,
  1.0, 1.5, 1.0, 2.0, 1.5, 1.0, 1.5, 2.0,
  1.0, 1.5, 2.5, 1.5, 1.0, 0.5, 1.0, 1.5,
  1.0, 2.0, 1.5, 1.0, 0.5, 1.0, 0.8, 0.5,
  1.0, 1.5, 1.0, 0.5, 0.8, 1.5, 1.0, 1.5,
  2.5, 1.5, 1.0, 0.5, 0.8, 1.0, 1.5, 0.8,
  0.5];
const rainP17 = [null, 4.0, 1.2, 0.9, 0.9, 0.7, 0.6, 1.3,
  8.5, 5.5, 5.0, 2.0, 1.0, 1.5, 1.0, 0.5,
  1.0, 0.8, 1.0, 1.5, 1.0, 0.5, 1.0, 1.5,
  2.0, 1.5, 1.0, 1.5, 1.0, 2.0, 1.5, 1.0,
  2.0, 1.5, 1.0, 2.0, 1.5, 1.0, 0.8, 1.0,
  0.5, 1.0, 1.5, 0.8, 0.5, 1.0, 0.5, 0.8,
  1.0, 0.5, 0.8, 1.5, 1.0, 0.5, 0.8, 1.0,
  1.5, 1.0, 0.5, 0.8, 1.0, 1.5, 1.0, 0.5,
  0.8];
const rainP18 = [null, 3.9, 1.1, 0.8, 0.9, 0.7, 0.6, 1.1,
  7.0, 6.0, 7.5, 3.5, 2.0, 1.5, 1.0, 1.5,
  3.0, 5.0, 2.0, 1.0, 1.5, 1.0, 0.8, 1.5,
  2.0, 1.5, 2.0, 3.0, 9.1, 4.0, 1.5, 1.0,
  1.5, 1.0, 2.0, 1.5, 1.0, 2.5, 3.5, 1.5,
  1.0, 0.8, 1.0, 1.5, 1.0, 0.5, 1.0, 1.5,
  1.0, 0.5, 1.0, 0.8, 1.5, 1.0, 0.5, 0.8,
  1.0, 1.5, 2.0, 1.0, 0.5, 1.0, 2.0, 7.4,
  2.0];
const rainP19 = [null, 4.1, 1.3, 0.9, 0.8, 0.6, 0.5, 1.2,
  6.5, 5.0, 5.5, 2.0, 1.5, 1.0, 1.5, 1.0,
  0.5, 1.0, 1.5, 1.0, 0.8, 1.5, 2.0, 1.5,
  1.0, 0.5, 1.0, 2.0, 1.5, 1.0, 2.0, 2.5,
  1.5, 1.0, 2.0, 3.0, 2.5, 1.5, 1.0, 1.5,
  2.0, 1.5, 1.0, 1.5, 1.0, 0.8, 2.0, 2.5,
  3.0, 1.5, 4.3, 2.0, 1.0, 0.5, 0.8, 1.0,
  0.5, 0.8, 1.0, 0.5, 0.8, 1.0, 0.5, 0.8,
  0.5];
const rainP20 = [null, 4.0, 1.2, 0.8, 0.9, 0.7, 0.6, 1.4,
  9.5, 7.0, 5.5, 2.5, 1.5, 2.0, 1.5, 1.0,
  1.5, 2.5, 1.5, 1.0, 2.0, 1.5, 1.0, 2.0,
  1.5, 1.0, 2.5, 2.0, 1.0, 1.5, 2.5, 1.5,
  1.0, 2.0, 1.5, 1.0, 0.5, 1.0, 1.5, 1.0,
  0.8, 1.5, 1.0, 0.5, 1.0, 2.0, 3.5, 5.7,
  2.0, 1.0, 0.5, 0.8, 1.0, 1.5, 1.0, 0.5,
  0.8, 1.0, 1.5, 1.0, 0.8, 0.5, 1.0, 1.5,
  1.0];

const t850Members = [t850P01, t850P02, t850P03, t850P04, t850P05, t850P06, t850P07, t850P08, t850P09, t850P10,
  t850P11, t850P12, t850P13, t850P14, t850P15, t850P16, t850P17, t850P18, t850P19, t850P20];
const t500Members = [t500P01, t500P02, t500P03, t500P04, t500P05, t500P06, t500P07, t500P08, t500P09, t500P10,
  t500P11, t500P12, t500P13, t500P14, t500P15, t500P16, t500P17, t500P18, t500P19, t500P20];
const rainMembers = [rainP01, rainP02, rainP03, rainP04, rainP05, rainP06, rainP07, rainP08, rainP09, rainP10,
  rainP11, rainP12, rainP13, rainP14, rainP15, rainP16, rainP17, rainP18, rainP19, rainP20];

const memberColors = ['#008080', '#c0c000', '#008000', '#ff8000', '#00ff00', '#800080', '#00ff80', '#ff00ff',
  '#80ff00', '#0080ff', '#8080ff', '#80ff80', '#8080ff', '#e0b040', '#80a800', '#006080',
  '#507078', '#806870', '#c0c0c0', '#888888'];

// legend swatches
const sw = document.getElementById('swatches');
memberColors.forEach((c, k) => {
  const n = document.createElement('div');
  n.className = 'num';
  n.style.left = (469 + 11 * k) + 'px';
  n.textContent = String(k + 1).padStart(2, '0');
  sw.appendChild(n);
  const s = document.createElement('div');
  s.className = 'sw';
  s.style.left = (469 + 11 * k) + 'px';
  s.style.background = c;
  sw.appendChild(s);
});

const pts = arr => arr.map((v, i) => ({ x: i, y: v }));
const MONO = "'DejaVu Sans Mono', monospace";
Chart.defaults.font.family = MONO;
Chart.defaults.font.size = 10;
Chart.defaults.color = '#000';

const datasets = [];
const mainRuns = [
  { t850: t850Mean, t500: t500Mean, rain: rainMean, color: '#ff0000', width: 4, order: 1 },
  { t850: t850Gfs, t500: t500Gfs, rain: rainGfs, color: '#000000', width: 3, order: 2 },
  { t850: t850Control, t500: t500Control, rain: rainControl, color: '#0000ff', width: 3, order: 3 }
];
mainRuns.forEach(r => {
  [['t850', 'y'], ['t500', 'y'], ['rain', 'y2']].forEach(([key, axis]) => {
    datasets.push({
      type: 'line', data: pts(r[key]), yAxisID: axis, order: r.order,
      borderColor: r.color, borderWidth: r.width, pointRadius: 0, tension: 0, spanGaps: false
    });
  });
});
memberColors.forEach((c, k) => {
  [[t850Members[k], 'y'], [t500Members[k], 'y'], [rainMembers[k], 'y2']].forEach(([arr, axis]) => {
    datasets.push({
      type: 'line', data: pts(arr), yAxisID: axis, order: 10 + k,
      borderColor: c, borderWidth: 1, tension: 0,
      pointStyle: 'cross', pointRadius: 1.6, pointBorderWidth: 1,
      pointBorderColor: c, pointBackgroundColor: c
    });
  });
});
const snowIndex = datasets.length;
datasets.push({
  type: 'bar', data: snowPct.map((v, k) => ({ x: 22 + k, y: v })), yAxisID: 'ySnow', order: 200,
  backgroundColor: '#ccffff', borderWidth: 0, barPercentage: 1, categoryPercentage: 1
});

const plotLabels = {
  id: 'plotLabels',
  beforeDatasetsDraw(chart) {
    const ctx = chart.ctx;
    const area = chart.chartArea;
    const xs = chart.scales.x;
    ctx.save();
    // day separators
    ctx.strokeStyle = '#c0c0c0';
    ctx.lineWidth = 1;
    xs.ticks.forEach(t => {
      const px = Math.round(xs.getPixelForValue(t.value)) + 0.5;
      ctx.beginPath();
      ctx.moveTo(px, area.top);
      ctx.lineTo(px, area.bottom);
      ctx.stroke();
    });
    ctx.font = '10px ' + MONO;
    ctx.fillStyle = '#000';
    ctx.textBaseline = 'middle';
    ctx.fillText('Temp. 850hPa', area.left + 10, 165);
    ctx.fillText('Temp. 500hPa', area.left + 10, 325);
    ctx.fillText('Precipitations', area.left + 10, 414);
    ctx.restore();
  },
  afterDatasetsDraw(chart) {
    const ctx = chart.ctx;
    const meta = chart.getDatasetMeta(snowIndex);
    ctx.save();
    meta.data.forEach((el, k) => {
      ctx.font = "13px 'DejaVu Sans'";
      ctx.fillStyle = '#52b6ee';
      ctx.textAlign = 'center';
      ctx.textBaseline = 'middle';
      ctx.fillText('❄', el.x, 589);
      ctx.save();
      ctx.translate(el.x - 1.5, 582);
      ctx.rotate(-Math.PI / 2);
      ctx.font = 'bold 8px ' + MONO;
      ctx.fillStyle = '#0000ff';
      ctx.textAlign = 'left';
      ctx.fillText(snowPct[k] + '%', 0, 0);
      ctx.restore();
    });
    ctx.restore();
  }
};

new Chart(document.getElementById('gefs'), {
  type: 'line',
  data: { datasets },
  plugins: [plotLabels],
  options: {
    responsive: false,
    animation: false,
    devicePixelRatio: 1,
    layout: { padding: { left: 20, top: 0, right: 0, bottom: 0 }, autoPadding: false },
    plugins: { legend: { display: false }, tooltip: { enabled: false } },
    scales: {
      x: {
        type: 'linear', min: 0, max: 64, offset: false,
        afterBuildTicks: s => { s.ticks = dayLabels.map((d, k) => ({ value: 1 + 4 * k })); },
        ticks: {
          autoSkip: false, minRotation: 90, maxRotation: 90, labelOffset: 7, padding: 2,
          callback: v => dayLabels[(v - 1) / 4]
        },
        grid: { color: '#c0c0c0', lineWidth: 1, drawTicks: false },
        border: { color: '#000', width: 1 },
        afterFit: s => { s.height = 40; s.paddingLeft = 0; s.paddingRight = 0; }
      },
      y: {
        position: 'left', min: -52.55, max: 33.15,
        afterBuildTicks: s => { s.ticks = tempTicks.map(v => ({ value: v })); },
        ticks: { crossAlign: 'far', padding: 0 },
        grid: {
          drawTicks: false,
          color: c => (c.tick && c.tick.value === 0) ? '#8c8c8c' : '#c0c0c0',
          lineWidth: c => !c.tick ? 1 : (c.tick.value === 0 ? 3 : (c.tick.value % 10 === 0 ? 2 : 1))
        },
        border: { color: '#000', width: 1 },
        afterFit: s => { s.width = 30; s.paddingTop = 0; s.paddingBottom = 0; }
      },
      y2: {
        position: 'right', min: -7.55, max: 78.15,
        afterBuildTicks: s => { s.ticks = rainTicks.map(v => ({ value: v })); },
        ticks: { padding: 19 },
        grid: { drawOnChartArea: false, drawTicks: false },
        border: { color: '#000', width: 1 },
        afterFit: s => { s.width = 50; s.paddingTop = 0; s.paddingBottom = 0; }
      },
      ySnow: { display: false, min: -8.333, max: 991.667 }
    }
  }
});
</script>
</body>
</html>
